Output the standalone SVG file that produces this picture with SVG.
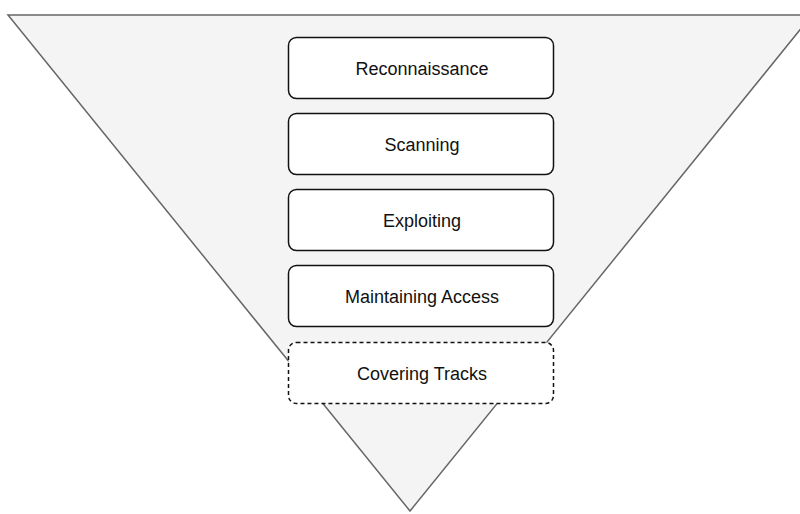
<svg xmlns="http://www.w3.org/2000/svg" width="800" height="514" viewBox="0 0 800 514">
<style>
.box{fill:#ffffff;stroke:#111111;stroke-width:1.5}
.dash{stroke-dasharray:4 3}
.lbl{font-family:"Liberation Sans",Arial,sans-serif;font-size:18px;fill:#111111;text-anchor:middle}
</style>
<rect width="800" height="514" fill="#ffffff"/>
<g id="funnel">
<polygon points="8,15 812,15 410,511" fill="#f4f4f4" stroke="#666666" stroke-width="1.5"/>
</g>
<g id="connectors"></g>
<g id="reconnaissance">
<rect class="box" x="288.5" y="37.5" width="265" height="61" rx="8"/>
<text class="lbl" x="422" y="75">Reconnaissance</text>
</g>
<g id="scanning">
<rect class="box" x="288.5" y="113.5" width="265" height="61" rx="8"/>
<text class="lbl" x="422" y="151">Scanning</text>
</g>
<g id="exploiting">
<rect class="box" x="288.5" y="189.5" width="265" height="61" rx="8"/>
<text class="lbl" x="422" y="227">Exploiting</text>
</g>
<g id="maintaining">
<rect class="box" x="288.5" y="265.5" width="265" height="61" rx="8"/>
<text class="lbl" x="422" y="303">Maintaining Access</text>
</g>
<g id="covering">
<rect class="box dash" x="288.5" y="342.5" width="265" height="61" rx="8"/>
<text class="lbl" x="422" y="380">Covering Tracks</text>
</g>
</svg>
